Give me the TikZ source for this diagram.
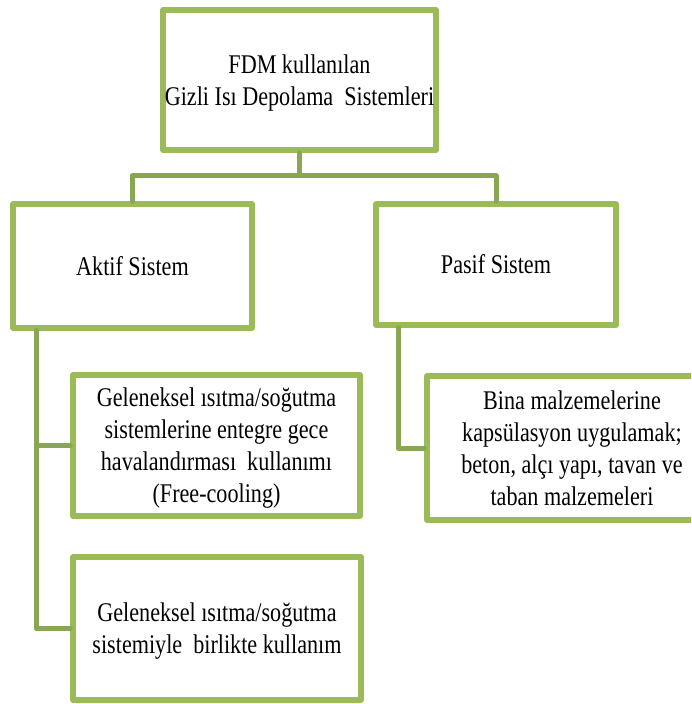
\documentclass[tikz,border=0pt]{standalone}
\usepackage{fontspec}
\setmainfont{Liberation Serif}[FakeStretch=0.82]
\usepackage{xcolor}
\usepackage{tikz}
\definecolor{kutuyesil}{HTML}{9BBB59}
\definecolor{bagyesil}{HTML}{89A652}
\tikzset{
  every picture/.style={line cap=round,line join=round},
  kutu/.style={draw=kutuyesil, line width=5.5pt, fill=white, align=center,
    inner sep=0pt, font=\fontsize{27}{32}\selectfont},
  cokluyazi/.style={text depth=-2pt},
  bag/.style={draw=bagyesil, line width=5pt},
}

\begin{document}
\begin{tikzpicture}[x=1pt,y=-1pt]
    \useasboundingbox (0,0) rectangle (691,704);
    \clip (0,0) rectangle (691,704);
    % kutular
    \node[kutu, cokluyazi, minimum width=273pt, minimum height=140pt] (fdm) at (299.5,80)
      {FDM kullanılan\\Gizli Isı Depolama~ Sistemleri};
    \node[kutu, minimum width=239pt, minimum height=124pt] (aktif) at (132.5,266)
      {Aktif Sistem};
    \node[kutu, minimum width=240pt, minimum height=121pt] (pasif) at (496,264.5)
      {Pasif Sistem};
    \node[kutu, cokluyazi, minimum width=287pt, minimum height=141pt] (gece) at (216.5,445.5)
      {Geleneksel ısıtma/soğutma\\sistemlerine entegre gece\\havalandırması~ kullanımı\\(Free-cooling)};
    \node[kutu, cokluyazi, minimum width=288pt, minimum height=143pt] (birlikte) at (217,628.5)
      {Geleneksel ısıtma/soğutma\\sistemiyle~ birlikte kullanım};
    \node[kutu, cokluyazi, minimum width=290pt, minimum height=144pt] (kapsul) at (572,448)
      {Bina malzemelerine\\kapsülasyon uygulamak;\\beton, alçı yapı, tavan ve\\taban malzemeleri};
    % baglantilar
    \draw[bag] (fdm.south) -- ++(0,23) coordinate (dal) -| (aktif.north);
    \draw[bag] (dal) -| (pasif.north);
    \draw[bag] ([xshift=26pt]aktif.south west) coordinate (sol) |- (gece.west);
    \draw[bag] (sol) |- (birlikte.west);
    \draw[bag] ([xshift=25pt]pasif.south west) |- (kapsul.west);
  \end{tikzpicture}
\end{document}
